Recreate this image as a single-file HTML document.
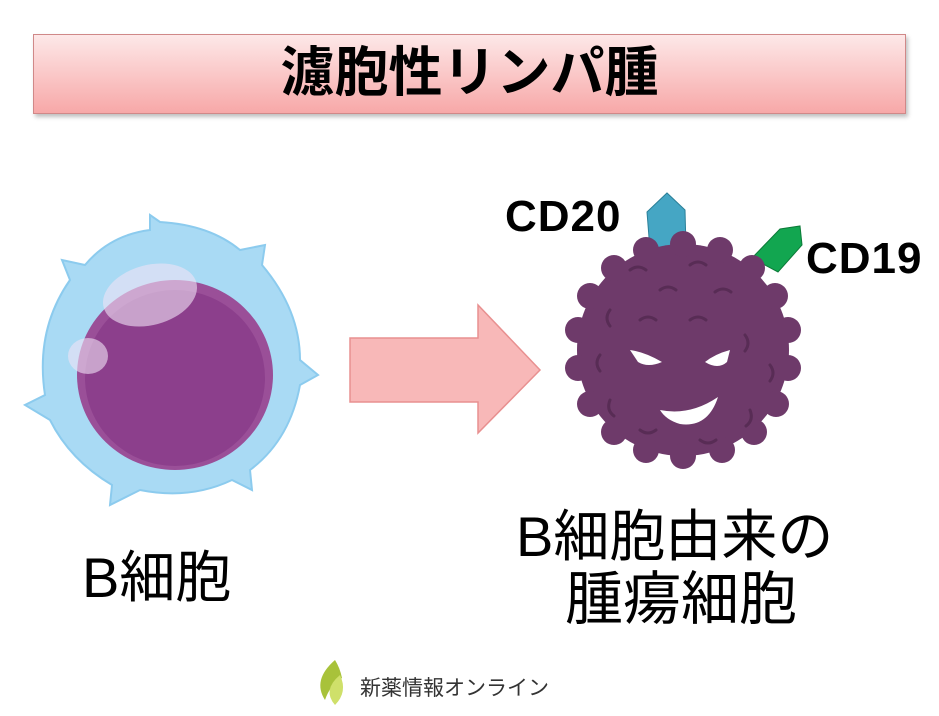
<!DOCTYPE html>
<html><head><meta charset="utf-8"><style>
body{margin:0;width:939px;height:716px;background:#fff;position:relative;overflow:hidden;font-family:"Liberation Sans","Noto Sans CJK JP",sans-serif}
.t{position:absolute;white-space:nowrap}
</style></head><body>
<div style="position:absolute;left:33px;top:34px;width:871px;height:78px;border:1px solid #d08888;background:linear-gradient(#fde8e8,#f7a8a8);box-shadow:2px 3px 4px rgba(0,0,0,.25)"></div>
<div class="t" style="left:0;width:939px;text-align:center;top:40px;font-size:54px;font-weight:bold;color:#000;line-height:66px">濾胞性リンパ腫</div>
<svg width="939" height="716" style="position:absolute;left:0;top:0">
<path d="M150 215 L160 222 Q210 225 240 250 L265 245 L262 265 Q300 310 300 360 L318 375 L300 385 Q290 440 250 470 L252 490 L232 480 Q190 500 140 490 L110 505 L112 485 Q70 460 50 420 L25 405 L45 395 Q35 330 70 280 L62 260 L85 265 Q110 235 150 230 Z" fill="#a9daf4" stroke="#8ccbee" stroke-width="2"/>
<ellipse cx="175" cy="375" rx="98" ry="95" fill="#9a4f98"/>
<ellipse cx="175" cy="378" rx="90" ry="88" fill="#8c3f8c"/>
<ellipse cx="150" cy="295" rx="48" ry="30" fill="#f0e3f5" opacity=".6" transform="rotate(-15 150 295)"/>
<ellipse cx="88" cy="356" rx="20" ry="18" fill="#f0e3f5" opacity=".6"/>
<path d="M350 338 L478 338 L478 305 L540 370 L478 433 L478 402 L350 402 Z" fill="#f8b8b8" stroke="#e89090" stroke-width="1.5"/>
<path d="M647 212 L667 193 L685 210 L686 248 L650 250 Z" fill="#45a6c4" stroke="#2a7f98"/>
<path d="M752 258 L780 229 L800 226 L802 245 L778 272 Z" fill="#12a650" stroke="#0c7a38"/>
<g fill="#6e3a6a">
<circle cx="683" cy="350" r="106"/>
<g id="b">
<circle cx="683" cy="244" r="13"/><circle cx="720" cy="250" r="13"/><circle cx="752" cy="268" r="13"/><circle cx="775" cy="296" r="13"/><circle cx="788" cy="330" r="13"/><circle cx="788" cy="368" r="13"/><circle cx="776" cy="404" r="13"/><circle cx="754" cy="432" r="13"/><circle cx="722" cy="450" r="13"/><circle cx="683" cy="456" r="13"/><circle cx="646" cy="450" r="13"/><circle cx="614" cy="432" r="13"/><circle cx="590" cy="404" r="13"/><circle cx="578" cy="368" r="13"/><circle cx="578" cy="330" r="13"/><circle cx="590" cy="296" r="13"/><circle cx="614" cy="268" r="13"/><circle cx="646" cy="250" r="13"/>
</g></g>
<g fill="none" stroke="#582c55" stroke-width="3" stroke-linecap="round">
<path d="M630 270 q8-6 16 0"/><path d="M690 265 q8-6 16 0"/><path d="M660 290 q8-6 16 0"/><path d="M715 292 q8-6 16 0"/><path d="M610 310 q-6 8 0 16"/><path d="M640 320 q8-6 16 0"/><path d="M690 320 q8-6 16 0"/><path d="M745 335 q6 8 0 16"/><path d="M600 355 q-6 8 0 16"/><path d="M770 365 q6 8 0 16"/><path d="M610 400 q-4 10 4 16"/><path d="M750 410 q4 10-4 16"/><path d="M640 430 q8 6 16 0"/><path d="M700 440 q8 6 16 0"/>
</g>
<path d="M630 350 Q645 352 662 362 Q648 368 638 362 Z" fill="#fff"/>
<path d="M730 350 Q715 354 705 362 Q718 370 727 362 Z" fill="#fff"/>
<path d="M660 410 Q690 416 718 397 Q708 428 680 424 Q666 420 660 410 Z" fill="#fff"/>
<path d="M335 660 Q312 680 325 700 Q330 685 342 678 Q340 668 335 660Z" fill="#a8c23a"/>
<path d="M340 675 Q322 690 335 705 Q348 692 340 675Z" fill="#cfe06a"/>
</svg>
<div class="t" style="left:505px;top:192px;font-size:44px;font-weight:bold;letter-spacing:1px">CD20</div>
<div class="t" style="left:806px;top:234px;font-size:44px;font-weight:bold;letter-spacing:1px">CD19</div>
<div class="t" style="left:82px;top:533px;font-size:56px">B細胞</div>
<div class="t" style="left:516px;top:505px;font-size:56px;line-height:64px">B細胞由来の</div>
<div class="t" style="left:565px;top:568px;font-size:58px;line-height:64px">腫瘍細胞</div>
<div class="t" style="left:360px;top:672px;font-size:21px;color:#333">新薬情報オンライン</div>
</body></html>
